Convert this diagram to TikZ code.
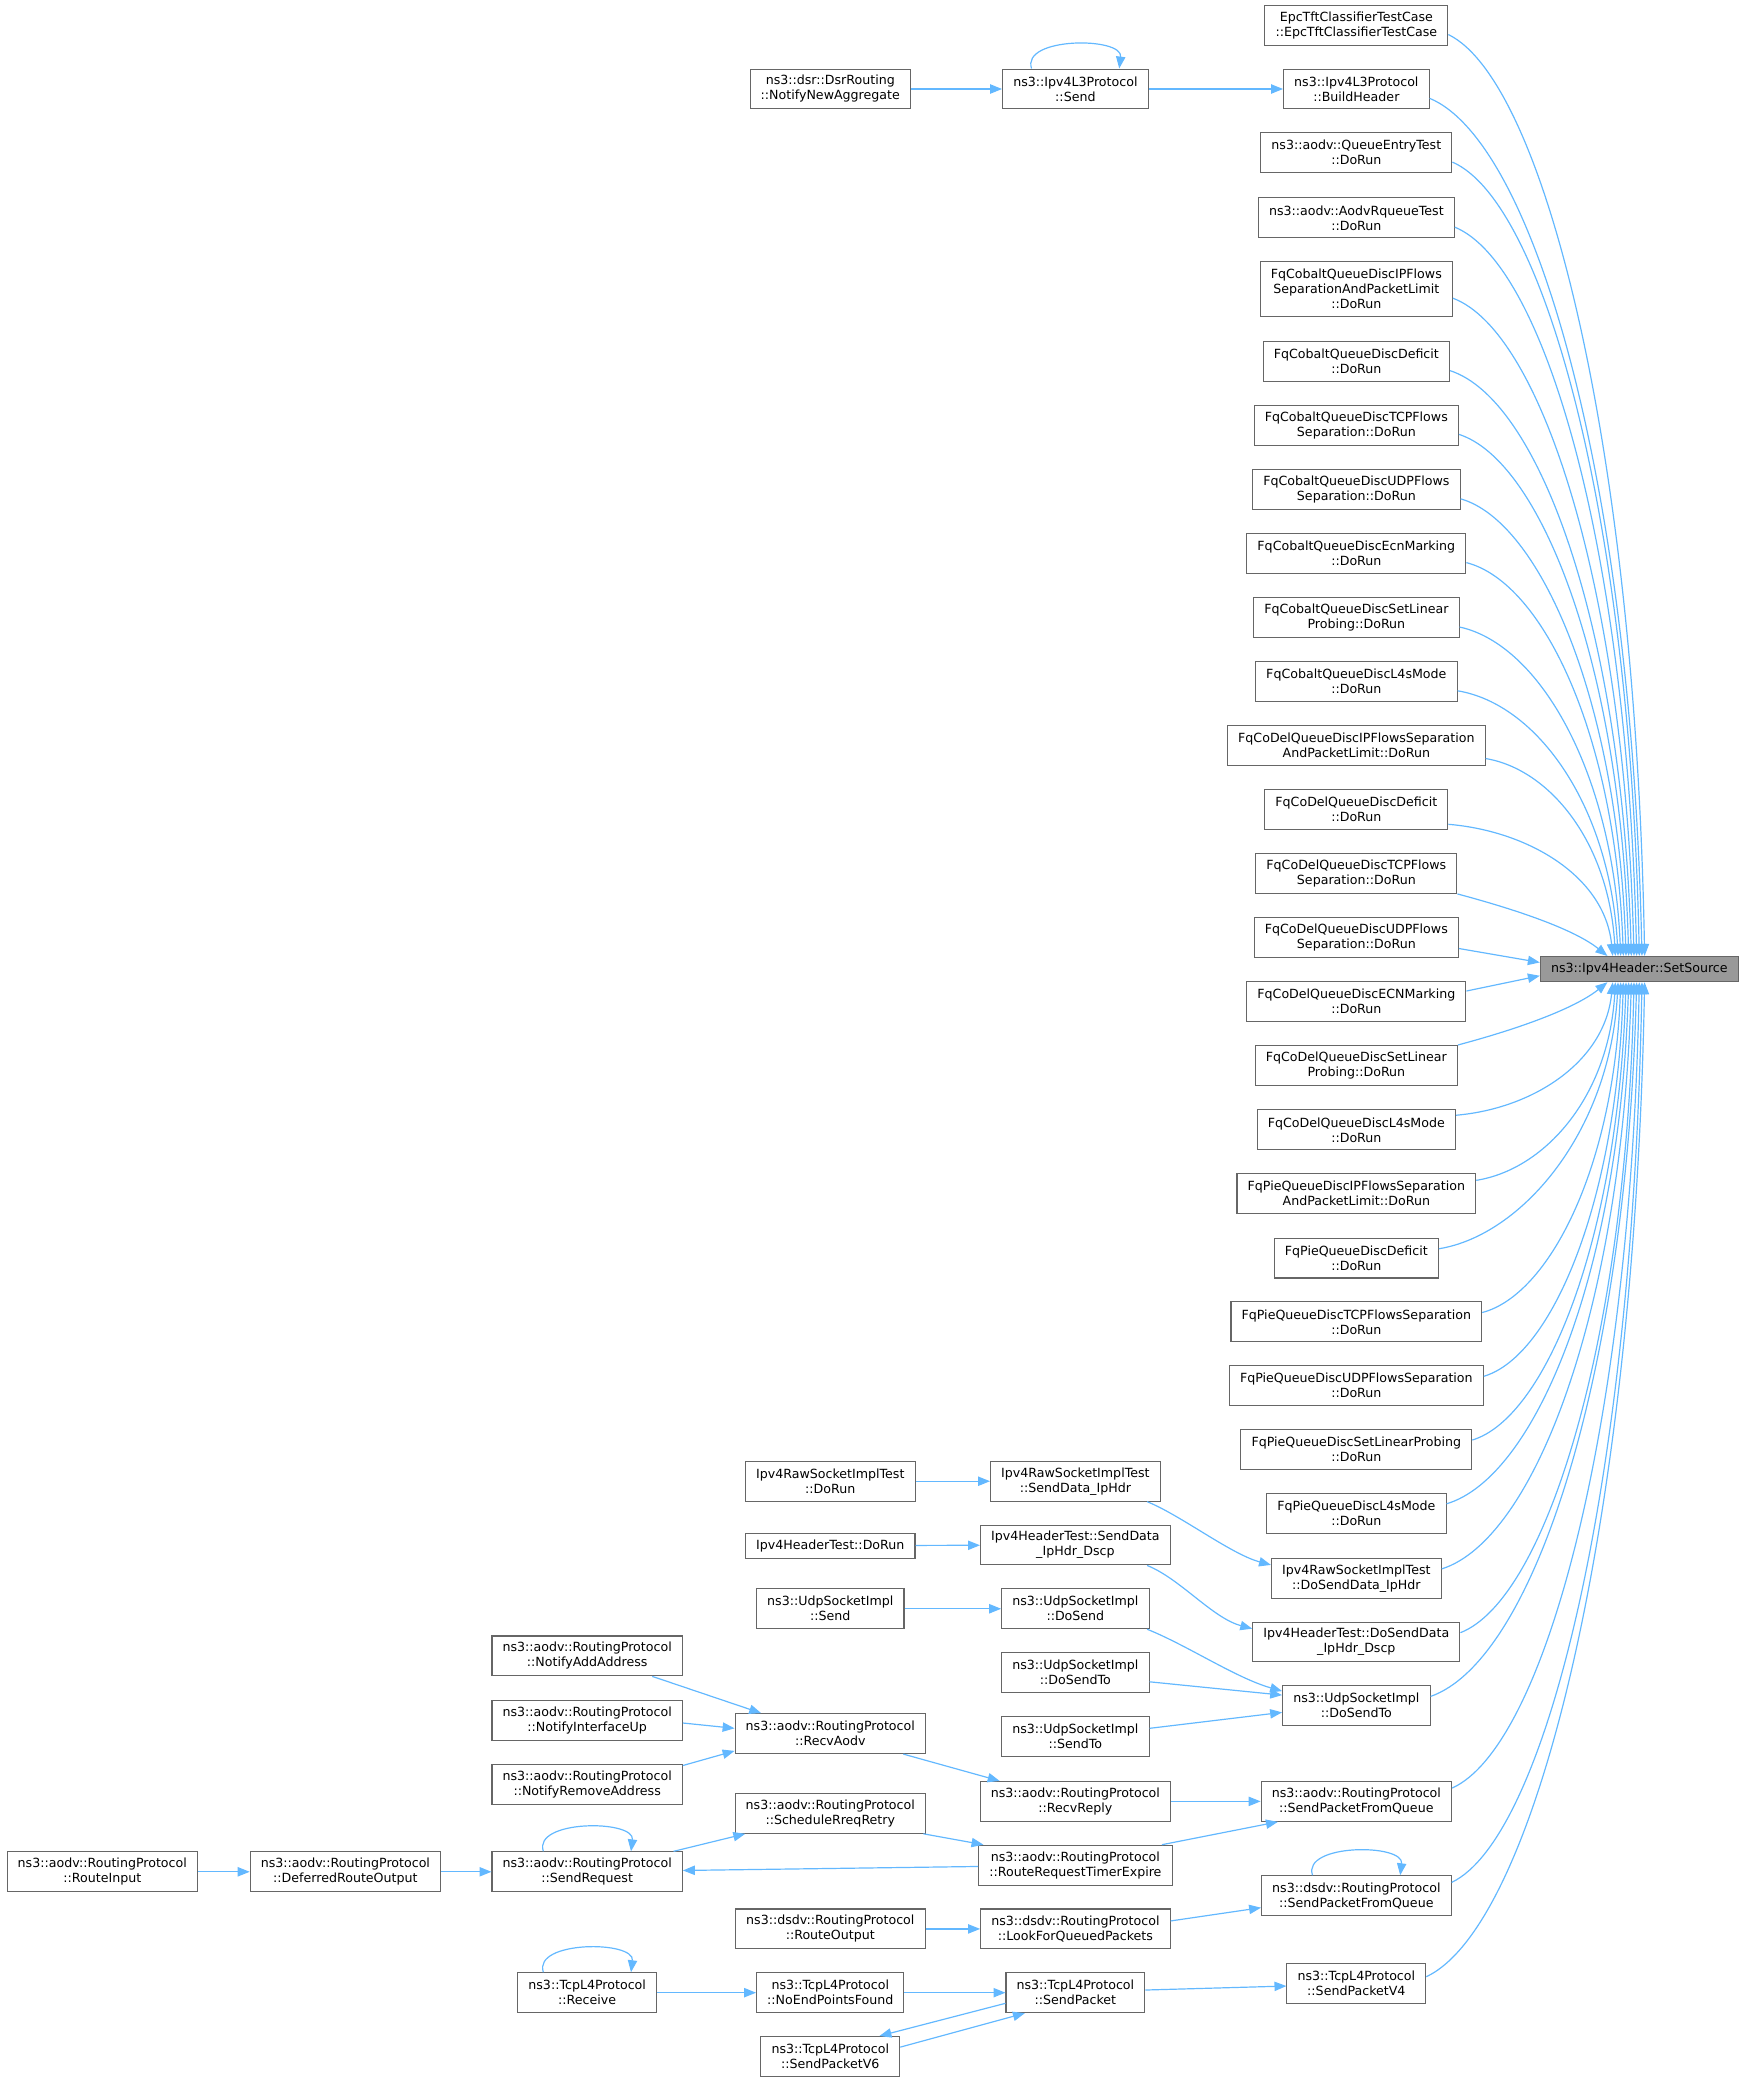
\documentclass[tikz,border=0pt]{standalone}
\usepackage{fontspec}
\setmainfont{DejaVu Sans}
\usetikzlibrary{arrows.meta}
\definecolor{callblue}{HTML}{63B8FF}
\definecolor{boxline}{HTML}{666666}
\definecolor{focusfill}{HTML}{999999}

\begin{document}
\begin{tikzpicture}[x=1pt, y=-1pt,
  func/.style={draw=boxline, fill=white, line width=0.8pt, align=center, inner xsep=8pt, inner ysep=2pt, minimum height=30pt, font=\fontsize{9.5}{11.3}\selectfont},
  func1/.style={func, minimum height=19pt},
  func3/.style={func, minimum height=42pt},
  focus/.style={func1, fill=focusfill},
  call/.style={draw=callblue, line width=0.9pt, -{Triangle[length=9pt,width=7pt]}}]
  \useasboundingbox (0,0) rectangle (1315,1568);

  \node[focus] (root) at (1234,729.5) {ns3::Ipv4Header::SetSource};

  \node[func] (c1) at (1021,19) {EpcTftClassifierTestCase\\::EpcTftClassifierTestCase};
  \node[func] (c2) at (1021,67) {ns3::Ipv4L3Protocol\\::BuildHeader};
  \node[func] (c3) at (1021,115) {ns3::aodv::QueueEntryTest\\::DoRun};
  \node[func] (c4) at (1021,164) {ns3::aodv::AodvRqueueTest\\::DoRun};
  \node[func3] (c5) at (1021,217.5) {FqCobaltQueueDiscIPFlows\\SeparationAndPacketLimit\\::DoRun};
  \node[func] (c6) at (1021,272) {FqCobaltQueueDiscDeficit\\::DoRun};
  \node[func] (c7) at (1021,320) {FqCobaltQueueDiscTCPFlows\\Separation::DoRun};
  \node[func] (c8) at (1021,368.5) {FqCobaltQueueDiscUDPFlows\\Separation::DoRun};
  \node[func] (c9) at (1021,416.5) {FqCobaltQueueDiscEcnMarking\\::DoRun};
  \node[func] (c10) at (1021,465) {FqCobaltQueueDiscSetLinear\\Probing::DoRun};
  \node[func] (c11) at (1021,513) {FqCobaltQueueDiscL4sMode\\::DoRun};
  \node[func] (c12) at (1021,561) {FqCoDelQueueDiscIPFlowsSeparation\\AndPacketLimit::DoRun};
  \node[func] (c13) at (1021,609.5) {FqCoDelQueueDiscDeficit\\::DoRun};
  \node[func] (c14) at (1021,657.5) {FqCoDelQueueDiscTCPFlows\\Separation::DoRun};
  \node[func] (c15) at (1021,706) {FqCoDelQueueDiscUDPFlows\\Separation::DoRun};
  \node[func] (c16) at (1021,754) {FqCoDelQueueDiscECNMarking\\::DoRun};
  \node[func] (c17) at (1021,802) {FqCoDelQueueDiscSetLinear\\Probing::DoRun};
  \node[func] (c18) at (1021,850.5) {FqCoDelQueueDiscL4sMode\\::DoRun};
  \node[func] (c19) at (1021,898.5) {FqPieQueueDiscIPFlowsSeparation\\AndPacketLimit::DoRun};
  \node[func] (c20) at (1021,947) {FqPieQueueDiscDeficit\\::DoRun};
  \node[func] (c21) at (1021,995) {FqPieQueueDiscTCPFlowsSeparation\\::DoRun};
  \node[func] (c22) at (1021,1043) {FqPieQueueDiscUDPFlowsSeparation\\::DoRun};
  \node[func] (c23) at (1021,1091) {FqPieQueueDiscSetLinearProbing\\::DoRun};
  \node[func] (c24) at (1021,1139) {FqPieQueueDiscL4sMode\\::DoRun};
  \node[func] (c25) at (1021,1188) {Ipv4RawSocketImplTest\\::DoSendData\_IpHdr};
  \node[func] (c26) at (1021,1236) {Ipv4HeaderTest::DoSendData\\\_IpHdr\_Dscp};
  \node[func] (c27) at (1021,1284) {ns3::UdpSocketImpl\\::DoSendTo};
  \node[func] (c28) at (1021,1356) {ns3::aodv::RoutingProtocol\\::SendPacketFromQueue};
  \node[func] (c29) at (1021,1427) {ns3::dsdv::RoutingProtocol\\::SendPacketFromQueue};
  \node[func] (c30) at (1021,1493) {ns3::TcpL4Protocol\\::SendPacketV4};

  \node[func] (snd) at (809.5,67) {ns3::Ipv4L3Protocol\\::Send};
  \node[func] (nna) at (625,67) {ns3::dsr::DsrRouting\\::NotifyNewAggregate};

  \node[func] (sdip) at (809.5,1115) {Ipv4RawSocketImplTest\\::SendData\_IpHdr};
  \node[func] (rdr) at (625,1115) {Ipv4RawSocketImplTest\\::DoRun};
  \node[func] (sdds) at (809.5,1163) {Ipv4HeaderTest::SendData\\\_IpHdr\_Dscp};
  \node[func1] (hdr) at (625,1163.5) {Ipv4HeaderTest::DoRun};
  \node[func] (dsnd) at (809.5,1211) {ns3::UdpSocketImpl\\::DoSend};
  \node[func] (usnd) at (625,1211) {ns3::UdpSocketImpl\\::Send};
  \node[func] (dst) at (809.5,1259) {ns3::UdpSocketImpl\\::DoSendTo};
  \node[func] (sto) at (809.5,1307) {ns3::UdpSocketImpl\\::SendTo};

  \node[func] (naa) at (442,1246.5) {ns3::aodv::RoutingProtocol\\::NotifyAddAddress};
  \node[func] (niu) at (442,1295) {ns3::aodv::RoutingProtocol\\::NotifyInterfaceUp};
  \node[func] (nra) at (442,1343) {ns3::aodv::RoutingProtocol\\::NotifyRemoveAddress};
  \node[func] (rav) at (625,1305) {ns3::aodv::RoutingProtocol\\::RecvAodv};
  \node[func] (rrp) at (809.5,1356) {ns3::aodv::RoutingProtocol\\::RecvReply};
  \node[func] (srr) at (625,1365) {ns3::aodv::RoutingProtocol\\::ScheduleRreqRetry};
  \node[func] (rrte) at (809.5,1404) {ns3::aodv::RoutingProtocol\\::RouteRequestTimerExpire};
  \node[func] (sreq) at (442,1409) {ns3::aodv::RoutingProtocol\\::SendRequest};
  \node[func] (dro) at (260,1409) {ns3::aodv::RoutingProtocol\\::DeferredRouteOutput};
  \node[func] (rin) at (77,1409) {ns3::aodv::RoutingProtocol\\::RouteInput};

  \node[func] (rout) at (625,1452) {ns3::dsdv::RoutingProtocol\\::RouteOutput};
  \node[func] (lfq) at (809.5,1452) {ns3::dsdv::RoutingProtocol\\::LookForQueuedPackets};

  \node[func] (rcv) at (442,1500) {ns3::TcpL4Protocol\\::Receive};
  \node[func] (nep) at (625,1500) {ns3::TcpL4Protocol\\::NoEndPointsFound};
  \node[func] (spk) at (809.5,1500) {ns3::TcpL4Protocol\\::SendPacket};
  \node[func] (sp6) at (625,1548) {ns3::TcpL4Protocol\\::SendPacketV6};

  % callers above the focus node
  \draw[call] ([yshift=-7pt]c1.east) .. controls +(72,35) and +(-7,-384) .. ([xshift=4pt]root.north);
  \draw[call] ([yshift=-7pt]c2.east) .. controls +(79,33) and +(-8,-358) .. ([xshift=2pt]root.north);
  \draw[call] ([yshift=-7pt]c3.east) .. controls +(69,30) and +(-7,-331) .. (root.north);
  \draw[call] ([yshift=-7pt]c4.east) .. controls +(68,28) and +(-7,-305) .. ([xshift=-2pt]root.north);
  \draw[call] ([yshift=-7pt]c5.east) .. controls +(67,25) and +(-7,-275) .. ([xshift=-4pt]root.north);
  \draw[call] ([yshift=-7pt]c6.east) .. controls +(68,22) and +(-7,-245) .. ([xshift=-6pt]root.north);
  \draw[call] ([yshift=-7pt]c7.east) .. controls +(62,20) and +(-6,-218) .. ([xshift=-8pt]root.north);
  \draw[call] ([yshift=-7pt]c8.east) .. controls +(60,17) and +(-6,-192) .. ([xshift=-10pt]root.north);
  \draw[call] ([yshift=-7pt]c9.east) .. controls +(58,15) and +(-6,-166) .. ([xshift=-12pt]root.north);
  \draw[call] ([yshift=-7pt]c10.east) .. controls +(60,13) and +(-6,-139) .. ([xshift=-14pt]root.north);
  \draw[call] ([yshift=-7pt]c11.east) .. controls +(60,10) and +(-6,-113) .. ([xshift=-16pt]root.north);
  \draw[call] ([yshift=-10pt]c12.east) .. controls +(48,8) and +(-5,-86) .. ([xshift=-18pt]root.north);
  \draw[call] ([yshift=-11pt]c13.east) .. controls +(60,5) and +(-6,-60) .. ([xshift=-20pt]root.north);
  \draw[call] (c14.south east) .. controls +(45,12) and +(-25,-20) .. ([xshift=-24pt]root.north);
  \draw[call] ([yshift=-8pt]c15.east) -- ([yshift=5pt]root.west);
  \draw[call] ([yshift=8pt]c16.east) -- ([yshift=-5pt]root.west);

  % callers below the focus node
  \draw[call] (c17.north east) .. controls +(45,-12) and +(-25,20) .. ([xshift=-24pt]root.south);
  \draw[call] ([yshift=11pt]c18.east) .. controls +(58,-5) and +(-6,60) .. ([xshift=-20pt]root.south);
  \draw[call] ([yshift=10pt]c19.east) .. controls +(51,-8) and +(-5,87) .. ([xshift=-18pt]root.south);
  \draw[call] ([yshift=7pt]c20.east) .. controls +(62,-10) and +(-6,113) .. ([xshift=-16pt]root.south);
  \draw[call] ([yshift=7pt]c21.east) .. controls +(50,-13) and +(-5,140) .. ([xshift=-14pt]root.south);
  \draw[call] ([yshift=7pt]c22.east) .. controls +(51,-15) and +(-5,166) .. ([xshift=-12pt]root.south);
  \draw[call] ([yshift=7pt]c23.east) .. controls +(56,-17) and +(-6,192) .. ([xshift=-10pt]root.south);
  \draw[call] ([yshift=7pt]c24.east) .. controls +(67,-20) and +(-7,219) .. ([xshift=-8pt]root.south);
  \draw[call] ([yshift=7pt]c25.east) .. controls +(70,-22) and +(-7,246) .. ([xshift=-6pt]root.south);
  \draw[call] ([yshift=7pt]c26.east) .. controls +(64,-25) and +(-6,272) .. ([xshift=-4pt]root.south);
  \draw[call] ([yshift=7pt]c27.east) .. controls +(77,-27) and +(-8,299) .. ([xshift=-2pt]root.south);
  \draw[call] ([yshift=10pt]c28.east) .. controls +(69,-31) and +(-7,340) .. (root.south);
  \draw[call] ([yshift=10pt]c29.east) .. controls +(71,-34) and +(-7,379) .. ([xshift=2pt]root.south);
  \draw[call] ([yshift=5pt]c30.east) .. controls +(81,-38) and +(-8,415) .. ([xshift=4pt]root.south);

  \draw[call] (nna) -- (snd);
  \draw[call] (snd) -- (c2);
  \draw[call] ([xshift=-33pt]snd.north) .. controls +(-8,-24) and +(3,-24) .. ([xshift=33pt]snd.north);

  \draw[call] (rdr) -- (sdip);
  \draw[call] ([xshift=54pt]sdip.south) .. controls +(25,10) and +(-30,-8) .. ([yshift=10pt]c25.west);
  \draw[call] (hdr) -- (sdds);
  \draw[call] ([xshift=54pt]sdds.south) .. controls +(25,10) and +(-30,-8) .. ([yshift=10pt]c26.west);
  \draw[call] (usnd) -- (dsnd);
  \draw[call] ([xshift=54pt]dsnd.south) .. controls +(30,12) and +(-35,-10) .. ([yshift=11pt]c27.west);
  \draw[call] ([yshift=-7pt]dst.east) -- ([yshift=8pt]c27.west);
  \draw[call] ([yshift=6pt]sto.east) -- ([yshift=-5pt]c27.west);

  \draw[call] ([xshift=49pt]naa.south) -- ([xshift=-52pt]rav.north);
  \draw[call] ([yshift=-2pt]niu.east) -- ([yshift=4pt]rav.west);
  \draw[call] ([yshift=14pt]nra.east) -- ([yshift=-13pt]rav.west);
  \draw[call] ([xshift=55pt]rav.south) -- ([xshift=-57pt]rrp.north);
  \draw[call] (rrp) -- (c28);

  \draw[call] (rin) -- (dro);
  \draw[call] (dro) -- (sreq);
  \draw[call] ([xshift=-33pt]sreq.north) .. controls +(-8,-24) and +(3,-24) .. ([xshift=33pt]sreq.north);
  \draw[call] ([xshift=65pt]sreq.north) -- ([xshift=-64pt]srr.south);
  \draw[call] ([xshift=-2pt]srr.south east) -- ([xshift=4pt]rrte.north west);
  \draw[call] ([yshift=-1pt]rrte.west) -- ([yshift=1pt]sreq.east);
  \draw[call] ([xshift=-8pt]rrte.north east) -- ([xshift=13pt]c28.south west);

  \draw[call] (rout) -- (lfq);
  \draw[call] ([yshift=6pt]lfq.east) -- ([yshift=-9pt]c29.west);
  \draw[call] ([xshift=-33pt]c29.north) .. controls +(-8,-24) and +(3,-24) .. ([xshift=33pt]c29.north);

  \draw[call] ([xshift=-33pt]rcv.north) .. controls +(-8,-24) and +(3,-24) .. ([xshift=33pt]rcv.north);
  \draw[call] (rcv) -- (nep);
  \draw[call] (nep) -- (spk);
  \draw[call] ([yshift=2pt]spk.east) -- ([yshift=-2pt]c30.west);
  \draw[call] ([yshift=-8pt]spk.west) -- ([xshift=37pt]sp6.north);
  \draw[call] ([yshift=7pt]sp6.east) -- ([xshift=-38pt]spk.south);
\end{tikzpicture}
\end{document}
